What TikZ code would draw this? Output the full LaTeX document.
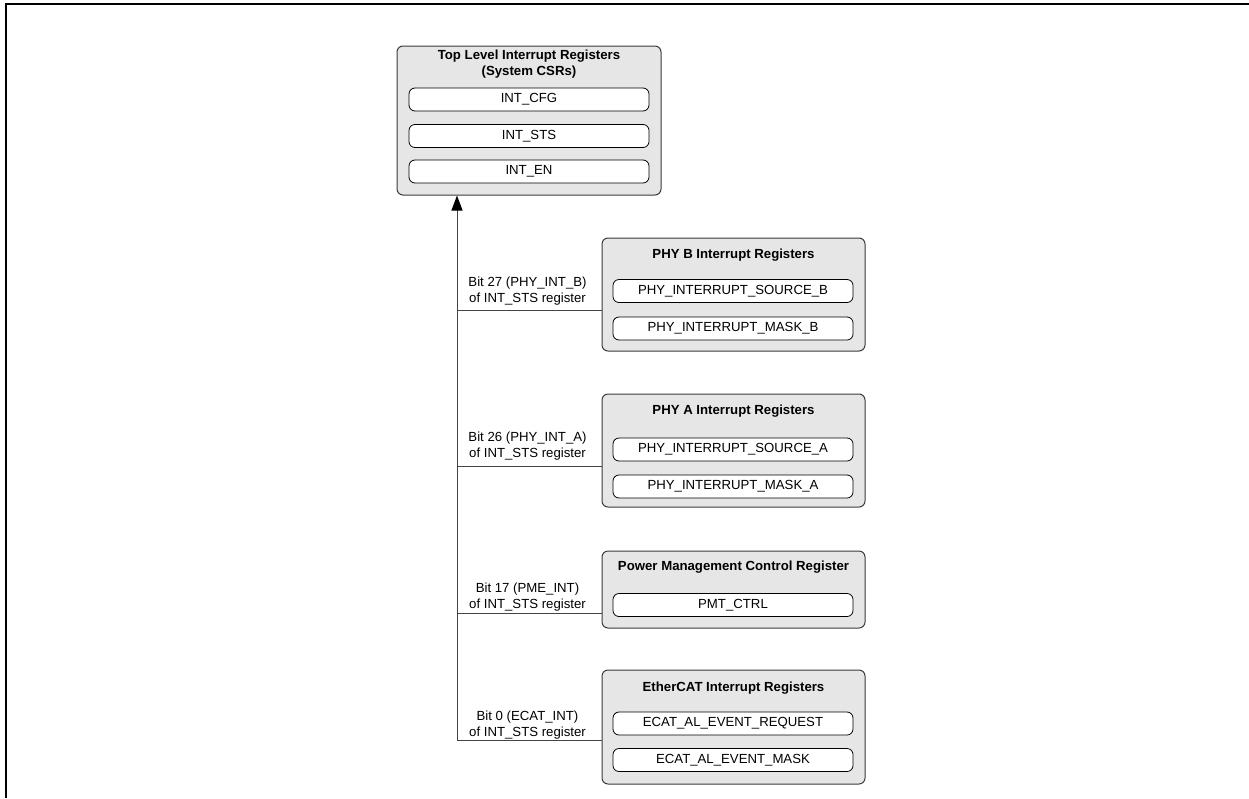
\documentclass[tikz,border=0pt]{standalone}
\usepackage{fontspec}
\setmainfont{Liberation Sans}
\usetikzlibrary{arrows.meta}
\definecolor{boxfill}{HTML}{E6E6E6}
\definecolor{boxline}{HTML}{3A3A3A}
\definecolor{wire}{HTML}{444444}
\tikzset{
  outerbox/.style={draw=boxline, fill=boxfill, line width=1pt, rounded corners=6pt, inner sep=0pt},
  regbox/.style={draw=black, fill=white, line width=0.8pt, rounded corners=6pt, minimum width=240pt, minimum height=23pt, inner sep=0pt, font=\fontsize{13.2}{16}\selectfont},
  titletext/.style={font=\fontsize{13.2}{16}\selectfont\bfseries, align=center, inner sep=0pt},
  bitlabel/.style={font=\fontsize{13.2}{16}\selectfont, align=center, inner sep=0pt},
  wireline/.style={draw=wire, line width=1pt},
}
\begin{document}
\begin{tikzpicture}[x=1pt,y=-1pt]
\useasboundingbox (0,0) rectangle (1249,798);
% frame
\draw[line width=2pt] (6,798) -- (6,4) -- (1249,4);
% top box
\node[outerbox, minimum width=264pt, minimum height=149pt] (top) at (529,120.5) {};
\node[titletext] (toptitle) at (529,64) {Top Level Interrupt Registers\\(System CSRs)};
\node[regbox] (intcfg) at (529,99.5) {INT\_CFG};
\node[regbox] (intsts) at (529,136) {INT\_STS};
\node[regbox] (inten) at (529,171.5) {INT\_EN};
% PHY B
\node[outerbox, minimum width=263pt, minimum height=113pt] (phyb) at (733.5,294.5) {};
\node[titletext] (phybtitle) at (733.5,255) {PHY B Interrupt Registers};
\node[regbox] (phybsrc) at (733,291) {PHY\_INTERRUPT\_SOURCE\_B};
\node[regbox] (phybmask) at (733,328.5) {PHY\_INTERRUPT\_MASK\_B};
% PHY A
\node[outerbox, minimum width=263pt, minimum height=113pt] (phya) at (733.5,450.5) {};
\node[titletext] (phyatitle) at (733.5,411.5) {PHY A Interrupt Registers};
\node[regbox] (phyasrc) at (733,449.5) {PHY\_INTERRUPT\_SOURCE\_A};
\node[regbox] (phyamask) at (733,486.5) {PHY\_INTERRUPT\_MASK\_A};
% Power management
\node[outerbox, minimum width=263pt, minimum height=77pt] (pmt) at (733.5,589.5) {};
\node[titletext] (pmttitle) at (733.5,567) {Power Management Control Register};
\node[regbox] (pmtctrl) at (733,605) {PMT\_CTRL};
% EtherCAT
\node[outerbox, minimum width=263pt, minimum height=114pt] (ecat) at (733.5,727) {};
\node[titletext] (ecattitle) at (733.5,688) {EtherCAT Interrupt Registers};
\node[regbox] (ecatreq) at (733,723.5) {ECAT\_AL\_EVENT\_REQUEST};
\node[regbox] (ecatmask) at (733,760) {ECAT\_AL\_EVENT\_MASK};
% junctions
\coordinate (jb) at (457,310);
\coordinate (ja) at (457,466);
\coordinate (jp) at (457,613);
\coordinate (je) at (457,740);
% connectors
\draw[wireline, -{Triangle[length=15pt,width=11pt,color=black]}] (je) -- (top.south -| je);
\draw[wireline] (jb) -- (jb -| phyb.west);
\draw[wireline] (ja) -- (ja -| phya.west);
\draw[wireline] (jp) -- (jp -| pmt.west);
\draw[wireline] (je) -- (je -| ecat.west);
% labels
\node[bitlabel] (lb) at (527.5,291) {Bit 27 (PHY\_INT\_B)\\of INT\_STS register};
\node[bitlabel] (la) at (527.5,446.5) {Bit 26 (PHY\_INT\_A)\\of INT\_STS register};
\node[bitlabel] (lp) at (527.5,597.5) {Bit 17 (PME\_INT)\\of INT\_STS register};
\node[bitlabel] (le) at (527.5,725) {Bit 0 (ECAT\_INT)\\of INT\_STS register};
\end{tikzpicture}
\end{document}
